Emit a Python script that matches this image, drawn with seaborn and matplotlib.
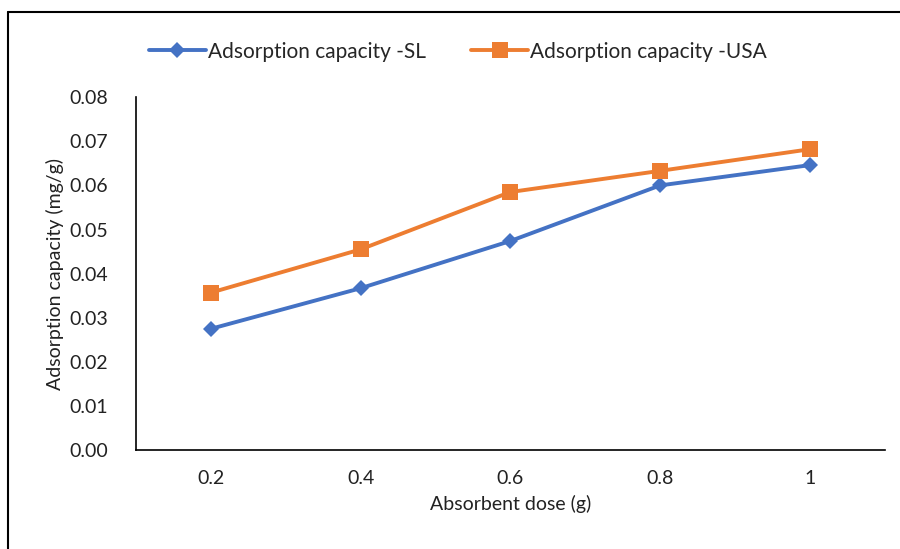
import matplotlib
matplotlib.use("Agg")
import matplotlib.pyplot as plt
from matplotlib.lines import Line2D
import seaborn as sns
import pandas as pd

doses = ["0.2", "0.4", "0.6", "0.8", "1"]
sl_values = [0.0275, 0.0367, 0.0474, 0.0600, 0.0646]
usa_values = [0.0357, 0.0455, 0.0585, 0.0633, 0.0682]
series_names = ["Adsorption capacity -SL", "Adsorption capacity -USA"]
y_ticks = [0.00, 0.01, 0.02, 0.03, 0.04, 0.05, 0.06, 0.07, 0.08]

sns.set_style("white")
plt.rcParams['font.family'] = ['Lato', 'DejaVu Sans']

df = pd.DataFrame({
    "dose": doses * 2,
    "value": sl_values + usa_values,
    "series": [series_names[0]] * len(doses) + [series_names[1]] * len(doses),
})

fig = plt.figure(figsize=(9, 5.49), dpi=100)
ax = fig.add_axes([0.151, 0.180, 0.832, 0.643])

colors = {series_names[0]: "#4472C4", series_names[1]: "#ED7D31"}
sns.lineplot(data=df[df.series == series_names[0]], x="dose", y="value", ax=ax,
             color=colors[series_names[0]], marker="D", markersize=8,
             markeredgewidth=0, linewidth=2.8, label=series_names[0], sort=False)
sns.lineplot(data=df[df.series == series_names[1]], x="dose", y="value", ax=ax,
             color=colors[series_names[1]], marker="s", markersize=11,
             markeredgewidth=0, linewidth=2.8, label=series_names[1], sort=False)

ax.set_xlim(-0.5, len(doses) - 0.5)
ax.set_ylim(0, 0.08)
ax.set_yticks(y_ticks)
ax.set_yticklabels([f"{v:.2f}" for v in y_ticks])
ax.tick_params(axis="both", length=0, labelsize=14, colors="#222222")
ax.tick_params(axis="y", pad=20)
ax.tick_params(axis="x", pad=14)
for s in ["top", "right"]:
    ax.spines[s].set_visible(False)
for s in ["left", "bottom"]:
    ax.spines[s].set_visible(True)
    ax.spines[s].set_color("black")
    ax.spines[s].set_linewidth(1.2)

ax.set_xlabel("Absorbent dose (g)", fontsize=14, color="#222222", labelpad=6)
ax.set_ylabel("Adsorption capacity (mg/g)", fontsize=14, color="#222222", labelpad=4)

leg = ax.legend(loc="upper center", bbox_to_anchor=(0.43, 1.21), ncol=2, frameon=False,
                fontsize=15, handlelength=2.7, columnspacing=2.2, handletextpad=0.1)

fig.add_artist(Line2D([8/900, 8/900], [0, 1 - 12/549], transform=fig.transFigure,
                      color="black", linewidth=1.5))
fig.add_artist(Line2D([8/900, 1], [1 - 12/549, 1 - 12/549], transform=fig.transFigure,
                      color="black", linewidth=1.5))

fig.savefig("out.png", dpi=100)
